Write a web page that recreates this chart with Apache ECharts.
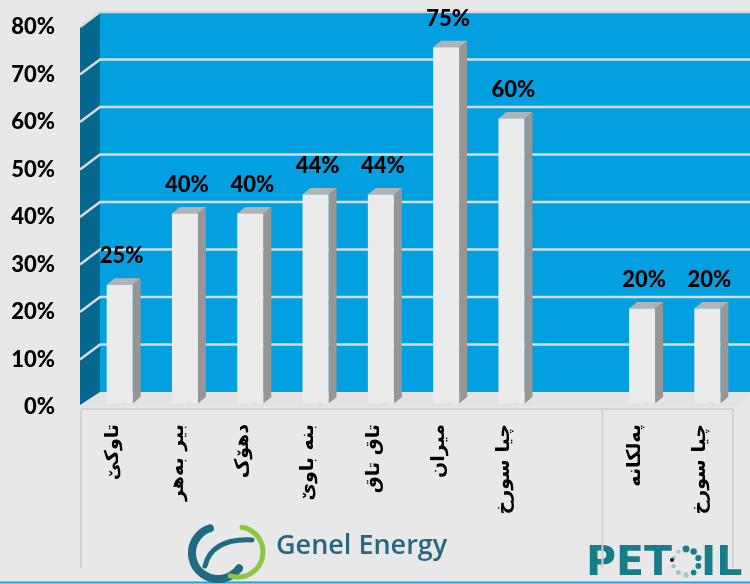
<!DOCTYPE html>
<html>
<head>
<meta charset="utf-8">
<script src="https://cdn.jsdelivr.net/npm/echarts@6/dist/echarts.min.js"></script>
<style>
  html, body { margin: 0; padding: 0; background: #e8e8e8; }
  #chart { width: 750px; height: 584px; }
</style>
</head>
<body>
<div id="chart"></div>
<script>
// data
const categories = ['تاوکێ', 'بیر بەهر', 'دهۆک', 'بنە باوێ', 'تاق تاق', 'میران', 'چیا سورخ', '', 'پەلکانە', 'چیا سورخ'];
const shares = [25, 40, 40, 44, 44, 75, 60, null, 20, 20];
const yMax = 80;
const yStep = 10;

// 3d look
const WALL_DX = 20, WALL_DY = -15;
const BAR_DX = 7, BAR_DY = -3.5;
const BAR_W = 26, SIDE_DX = 8, SIDE_DY = -6.5;
const FONT = 'Lato, "DejaVu Sans", sans-serif';

const chart = echarts.init(document.getElementById('chart'));

function renderWalls(params, api) {
    const cs = params.coordSys;
    const x0 = cs.x, x1 = cs.x + cs.width;
    const yAt = (v) => api.coord([0, v])[1];
    const y0 = yAt(0), yTop = yAt(yMax);
    const children = [];
    // back wall
    children.push({
        type: 'rect',
        shape: { x: x0 + WALL_DX, y: yTop + WALL_DY, width: cs.width, height: y0 - yTop },
        style: { fill: '#02a0e0' }
    });
    // floor
    children.push({
        type: 'polygon',
        shape: { points: [[x0, y0], [x0 + WALL_DX, y0 + WALL_DY], [x1 + WALL_DX, y0 + WALL_DY], [x1, y0]] },
        style: { fill: '#e3e3e3' }
    });
    // side wall
    children.push({
        type: 'polygon',
        shape: { points: [[x0, y0 - 2], [x0, yTop], [x0 + WALL_DX, yTop + WALL_DY], [x0 + WALL_DX, y0 + WALL_DY]] },
        style: { fill: '#03678e' }
    });
    // grid lines on back wall and side wall
    for (let v = yStep; v <= yMax; v += yStep) {
        const y = yAt(v);
        children.push({
            type: 'polyline',
            shape: { points: [[x0, y], [x0 + WALL_DX, y + WALL_DY], [x1 + WALL_DX, y + WALL_DY]] },
            style: { stroke: '#d6dde0', lineWidth: 2.5, fill: null }
        });
    }
    // label area frame
    const slotW = cs.width / categories.length;
    const sepX = x0 + slotW * 8;
    const lineStyle = { stroke: '#d2d2d2', lineWidth: 2 };
    children.push({ type: 'line', shape: { x1: x0 + 1, y1: y0 + 2, x2: x1, y2: y0 + 2 }, style: lineStyle });
    children.push({ type: 'line', shape: { x1: x0 + 1, y1: y0 + 2, x2: x0 + 1, y2: y0 + 161 }, style: lineStyle });
    children.push({ type: 'line', shape: { x1: sepX, y1: y0 + 2, x2: sepX, y2: y0 + 161 }, style: lineStyle });
    children.push({ type: 'line', shape: { x1: x1, y1: y0 + 2, x2: x1, y2: y0 + 161 }, style: lineStyle });
    return { type: 'group', children: children };
}

function renderBar(params, api) {
    const v = api.value(1);
    const base = api.coord([api.value(0), 0]);
    const top = api.coord([api.value(0), v]);
    const cx = base[0] + BAR_DX;
    const yb = base[1] + BAR_DY;
    const yt = top[1] + BAR_DY;
    const l = cx - BAR_W / 2, r = cx + BAR_W / 2;
    return {
        type: 'group',
        children: [
            {
                type: 'ellipse',
                shape: { cx: cx + 4, cy: yb - 4, rx: 38, ry: 5 },
                style: {
                    fill: new echarts.graphic.RadialGradient(0.5, 0.5, 0.5, [
                        { offset: 0, color: 'rgba(50,50,50,0.9)' },
                        { offset: 1, color: 'rgba(50,50,50,0)' }
                    ])
                }
            },
            {
                type: 'polygon',
                shape: { points: [[r, yt], [r + SIDE_DX, yt + SIDE_DY], [r + SIDE_DX, yb + SIDE_DY], [r, yb]] },
                style: { fill: '#969696' }
            },
            {
                type: 'polygon',
                shape: { points: [[l, yt], [l + SIDE_DX, yt + SIDE_DY], [r + SIDE_DX, yt + SIDE_DY], [r, yt]] },
                style: { fill: '#b3b3b3' }
            },
            {
                type: 'rect',
                shape: { x: l, y: yt, width: BAR_W, height: yb - yt },
                style: { fill: '#ebebeb' }
            },
            {
                type: 'text',
                x: cx + 2,
                y: yt + SIDE_DY - 11,
                style: {
                    text: v + '%',
                    align: 'center',
                    verticalAlign: 'bottom',
                    fill: '#000',
                    font: '900 22px ' + FONT
                }
            }
        ]
    };
}

chart.setOption({
    backgroundColor: '#e8e8e8',
    animation: false,
    grid: { left: 80, right: 17, top: 27, bottom: 177 },
    xAxis: {
        type: 'category',
        data: categories,
        axisLine: { show: false },
        axisTick: { show: false },
        axisLabel: {
            rotate: 90,
            interval: 0,
            margin: 17,
            color: '#000',
            fontSize: 19,
            fontWeight: 'bold',
            fontFamily: '"DejaVu Sans", sans-serif'
        }
    },
    yAxis: {
        type: 'value',
        min: 0,
        max: yMax,
        interval: yStep,
        axisLine: { show: false },
        axisTick: { show: false },
        splitLine: { show: false },
        axisLabel: {
            formatter: '{value}%',
            margin: 25,
            color: '#000',
            fontSize: 22,
            fontWeight: 900,
            fontFamily: FONT
        }
    },
    graphic: [
        // bottom border
        { type: 'line', shape: { x1: 0, y1: 582.5, x2: 750, y2: 582.5 }, style: { stroke: '#2a9fd3', lineWidth: 2 } },
        // Genel Energy logo
        { type: 'arc', shape: { cx: 218, cy: 553, r: 26, startAngle: Math.PI * 0.2, endAngle: Math.PI * 1.4, clockwise: true },
          style: { stroke: '#206b82', lineWidth: 8, fill: null, lineCap: 'round' } },
        { type: 'arc', shape: { cx: 238, cy: 552, r: 25, startAngle: -Math.PI * 0.45, endAngle: Math.PI * 0.6, clockwise: true },
          style: { stroke: '#8cc63f', lineWidth: 5, fill: null, lineCap: 'round' } },
        { type: 'bezierCurve', shape: { x1: 205, y1: 566, cpx1: 212, cpy1: 538, x2: 252, y2: 540 },
          style: { stroke: '#206b82', lineWidth: 5, fill: null, lineCap: 'round' } },
        { type: 'text', x: 276, y: 546, style: { text: 'Genel Energy', fill: '#24697f', font: '600 27px "Open Sans", sans-serif', verticalAlign: 'middle' } },
        // PETOIL logo
        { type: 'text', x: 586, y: 564, style: { text: 'PET', fill: '#177d88', font: 'bold 41px "DejaVu Sans", sans-serif', verticalAlign: 'middle' } },
        { type: 'text', x: 701, y: 564, style: { text: 'IL', fill: '#177d88', font: 'bold 41px "DejaVu Sans", sans-serif', verticalAlign: 'middle' } },
        { type: 'group', x: 686, y: 562, children: Array.from({ length: 10 }, (_, k) => {
            const a = -Math.PI / 2 + k * Math.PI / 5;
            return {
                type: 'circle',
                shape: { cx: Math.cos(a) * 13, cy: Math.sin(a) * 13, r: 3.4 - k * 0.15 },
                style: { fill: k < 5 ? '#1a7f8a' : '#9fc6cb' }
            };
        }) },
        { type: 'circle', shape: { cx: 672, cy: 560, r: 2 }, style: { fill: '#111' } }
    ],
    series: [
        {
            type: 'custom',
            z: 1,
            renderItem: renderWalls,
            data: [[0, 0]],
            silent: true
        },
        {
            type: 'custom',
            z: 2,
            renderItem: renderBar,
            data: shares.map((v, i) => [i, v]).filter((d) => d[1] != null)
        }
    ]
});
</script>
</body>
</html>
